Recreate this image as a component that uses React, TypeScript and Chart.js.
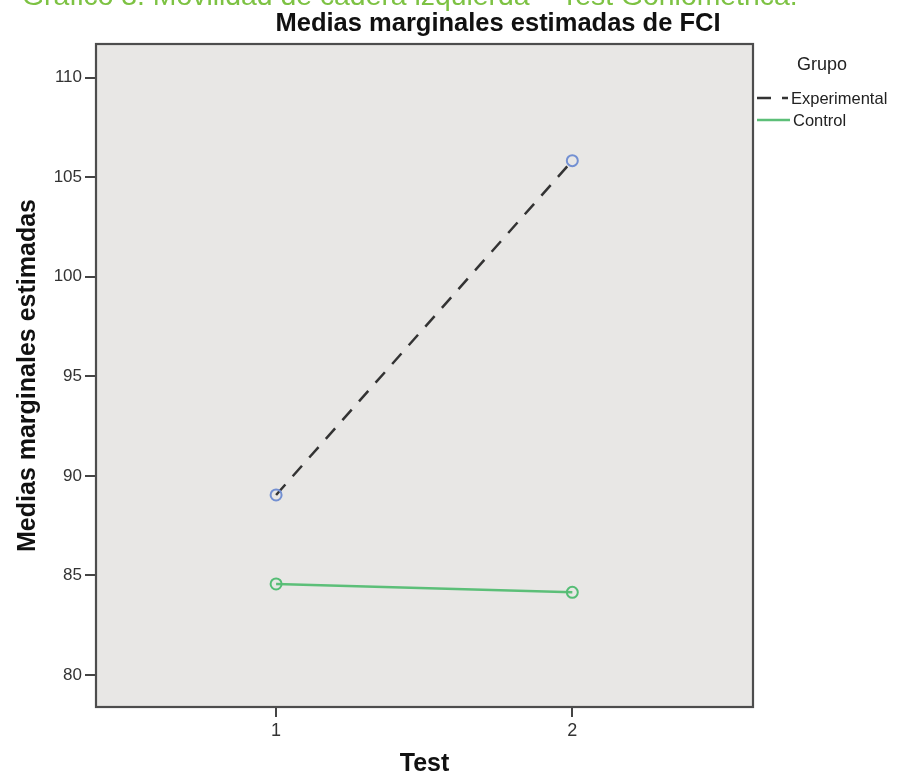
import React, { useEffect, useRef } from "react";
import { Chart, registerables } from "chart.js";

Chart.register(...registerables);

// ---- data ----
const testLevels = [1, 2];
const experimentalMeans = [89.04, 105.83];
const controlMeans = [84.57, 84.15];
const seriesNames = ["Experimental", "Control"];
const xTickValues = [1, 2];
const yTickValues = [80, 85, 90, 95, 100, 105, 110];

const chartTitle = "Medias marginales estimadas de FCI";
const captionText = "Gráfico 3. Movilidad de cadera izquierda – Test Goniométrica.";
const xTitle = "Test";
const yTitle = "Medias marginales estimadas";
const legendTitle = "Grupo";

const FONT = "'Liberation Sans', Arial, sans-serif";
const W = 911;
const H = 779;

const EXP_LINE = "#333333";
const EXP_POINT = "#7390d2";
const CTRL_LINE = "#5cbf78";
const CTRL_POINT = "#55bd75";
const DASH = [14, 11];

const decorPlugin = {
  id: "decor",
  beforeDraw(chart: any) {
    const { ctx, chartArea: a } = chart;
    ctx.save();
    ctx.fillStyle = "#ffffff";
    ctx.fillRect(0, 0, chart.width, chart.height);
    ctx.fillStyle = "#e8e7e5";
    ctx.fillRect(a.left, a.top, a.right - a.left, a.bottom - a.top);
    ctx.restore();
  },
  beforeDatasetsDraw(chart: any) {
    const { ctx, chartArea: a } = chart;
    ctx.save();
    ctx.strokeStyle = "#4d4d4d";
    ctx.lineWidth = 2.2;
    ctx.strokeRect(a.left, a.top, a.right - a.left, a.bottom - a.top);
    ctx.restore();
  },
  afterDraw(chart: any) {
    const { ctx } = chart;
    ctx.save();
    // caption (clipped at top)
    let size = 26;
    ctx.font = `${size}px ${FONT}`;
    const w = ctx.measureText(captionText).width;
    size = size * (776 / w);
    ctx.font = `${size}px ${FONT}`;
    ctx.fillStyle = "#7dc243";
    ctx.textAlign = "left";
    ctx.textBaseline = "alphabetic";
    ctx.fillText(captionText, 22, 5);

    // title
    ctx.font = `bold 25.5px ${FONT}`;
    ctx.fillStyle = "#111111";
    ctx.textAlign = "center";
    ctx.fillText(chartTitle, 498, 31);

    // legend
    ctx.font = `18px ${FONT}`;
    ctx.fillStyle = "#222222";
    ctx.textAlign = "left";
    ctx.fillText(legendTitle, 797, 70);

    const ds = chart.data.datasets;
    const rows = [
      { y: 98, ds: ds[0], x1: 788, tx: 791 },
      { y: 120, ds: ds[1], x1: 790, tx: 793 },
    ];
    rows.forEach((r) => {
      ctx.beginPath();
      ctx.strokeStyle = r.ds.borderColor;
      ctx.lineWidth = r.ds.borderWidth;
      ctx.setLineDash(r.ds.borderDash || []);
      ctx.moveTo(757, r.y);
      ctx.lineTo(r.x1, r.y);
      ctx.stroke();
      ctx.setLineDash([]);
      ctx.font = `16.5px ${FONT}`;
      ctx.fillStyle = "#222222";
      ctx.textBaseline = "middle";
      ctx.fillText(r.ds.label, r.tx, r.y + 1);
    });
    ctx.restore();
  },
};

export default function App() {
  const ref = useRef<HTMLCanvasElement | null>(null);

  useEffect(() => {
    const canvas = ref.current;
    if (!canvas) return;
    const chart = new Chart(canvas, {
      type: "line",
      data: {
        datasets: [
          {
            label: seriesNames[0],
            data: testLevels.map((t, i) => ({ x: t, y: experimentalMeans[i] })),
            borderColor: EXP_LINE,
            borderWidth: 2.5,
            borderDash: DASH,
            pointStyle: "circle",
            pointRadius: 5.5,
            pointBorderWidth: 2,
            pointBorderColor: EXP_POINT,
            pointBackgroundColor: "rgba(0,0,0,0)",
            fill: false,
            tension: 0,
          },
          {
            label: seriesNames[1],
            data: testLevels.map((t, i) => ({ x: t, y: controlMeans[i] })),
            borderColor: CTRL_LINE,
            borderWidth: 2.5,
            pointStyle: "circle",
            pointRadius: 5.5,
            pointBorderWidth: 2,
            pointBorderColor: CTRL_POINT,
            pointBackgroundColor: "rgba(0,0,0,0)",
            fill: false,
            tension: 0,
          },
        ],
      },
      options: {
        responsive: false,
        animation: false,
        devicePixelRatio: 1,
        layout: { padding: { top: 44, left: 13, right: W - 753, bottom: 0 } },
        plugins: {
          legend: { display: false },
          title: { display: false },
          tooltip: { enabled: false },
        },
        scales: {
          x: {
            type: "linear",
            min: 0.392,
            max: 2.61,
            afterBuildTicks: (s: any) => {
              s.ticks = xTickValues.map((v) => ({ value: v }));
            },
            afterFit: (s: any) => {
              s.height = H - 707;
            },
            ticks: {
              color: "#333333",
              font: { family: FONT, size: 18 },
              padding: 3,
              autoSkip: false,
              maxRotation: 0,
              callback: (v: any) => String(v),
            },
            grid: {
              drawOnChartArea: false,
              drawTicks: true,
              tickLength: 10,
              color: "#444444",
              lineWidth: 2,
            },
            border: { display: false },
            title: {
              display: true,
              text: xTitle,
              color: "#111111",
              font: { family: FONT, size: 25, weight: "bold" },
              padding: { top: 0, bottom: 0 },
            },
          },
          y: {
            type: "linear",
            min: 78.39,
            max: 111.69,
            afterBuildTicks: (s: any) => {
              s.ticks = yTickValues.map((v) => ({ value: v }));
            },
            afterFit: (s: any) => {
              s.width = 96 - 13;
            },
            ticks: {
              color: "#333333",
              font: { family: FONT, size: 17 },
              padding: 3,
              autoSkip: false,
              callback: (v: any) => String(v),
            },
            grid: {
              drawOnChartArea: false,
              drawTicks: true,
              tickLength: 11,
              color: "#444444",
              lineWidth: 2,
            },
            border: { display: false },
            title: {
              display: true,
              text: yTitle,
              color: "#111111",
              font: { family: FONT, size: 25, weight: "bold" },
              padding: { top: 0, bottom: 0 },
            },
          },
        },
      },
      plugins: [decorPlugin],
    });
    return () => chart.destroy();
  }, []);

  return (
    <div style={{ position: "absolute", left: 0, top: 0, width: W, height: H }}>
      <canvas ref={ref} width={W} height={H} style={{ display: "block" }} />
    </div>
  );
}
